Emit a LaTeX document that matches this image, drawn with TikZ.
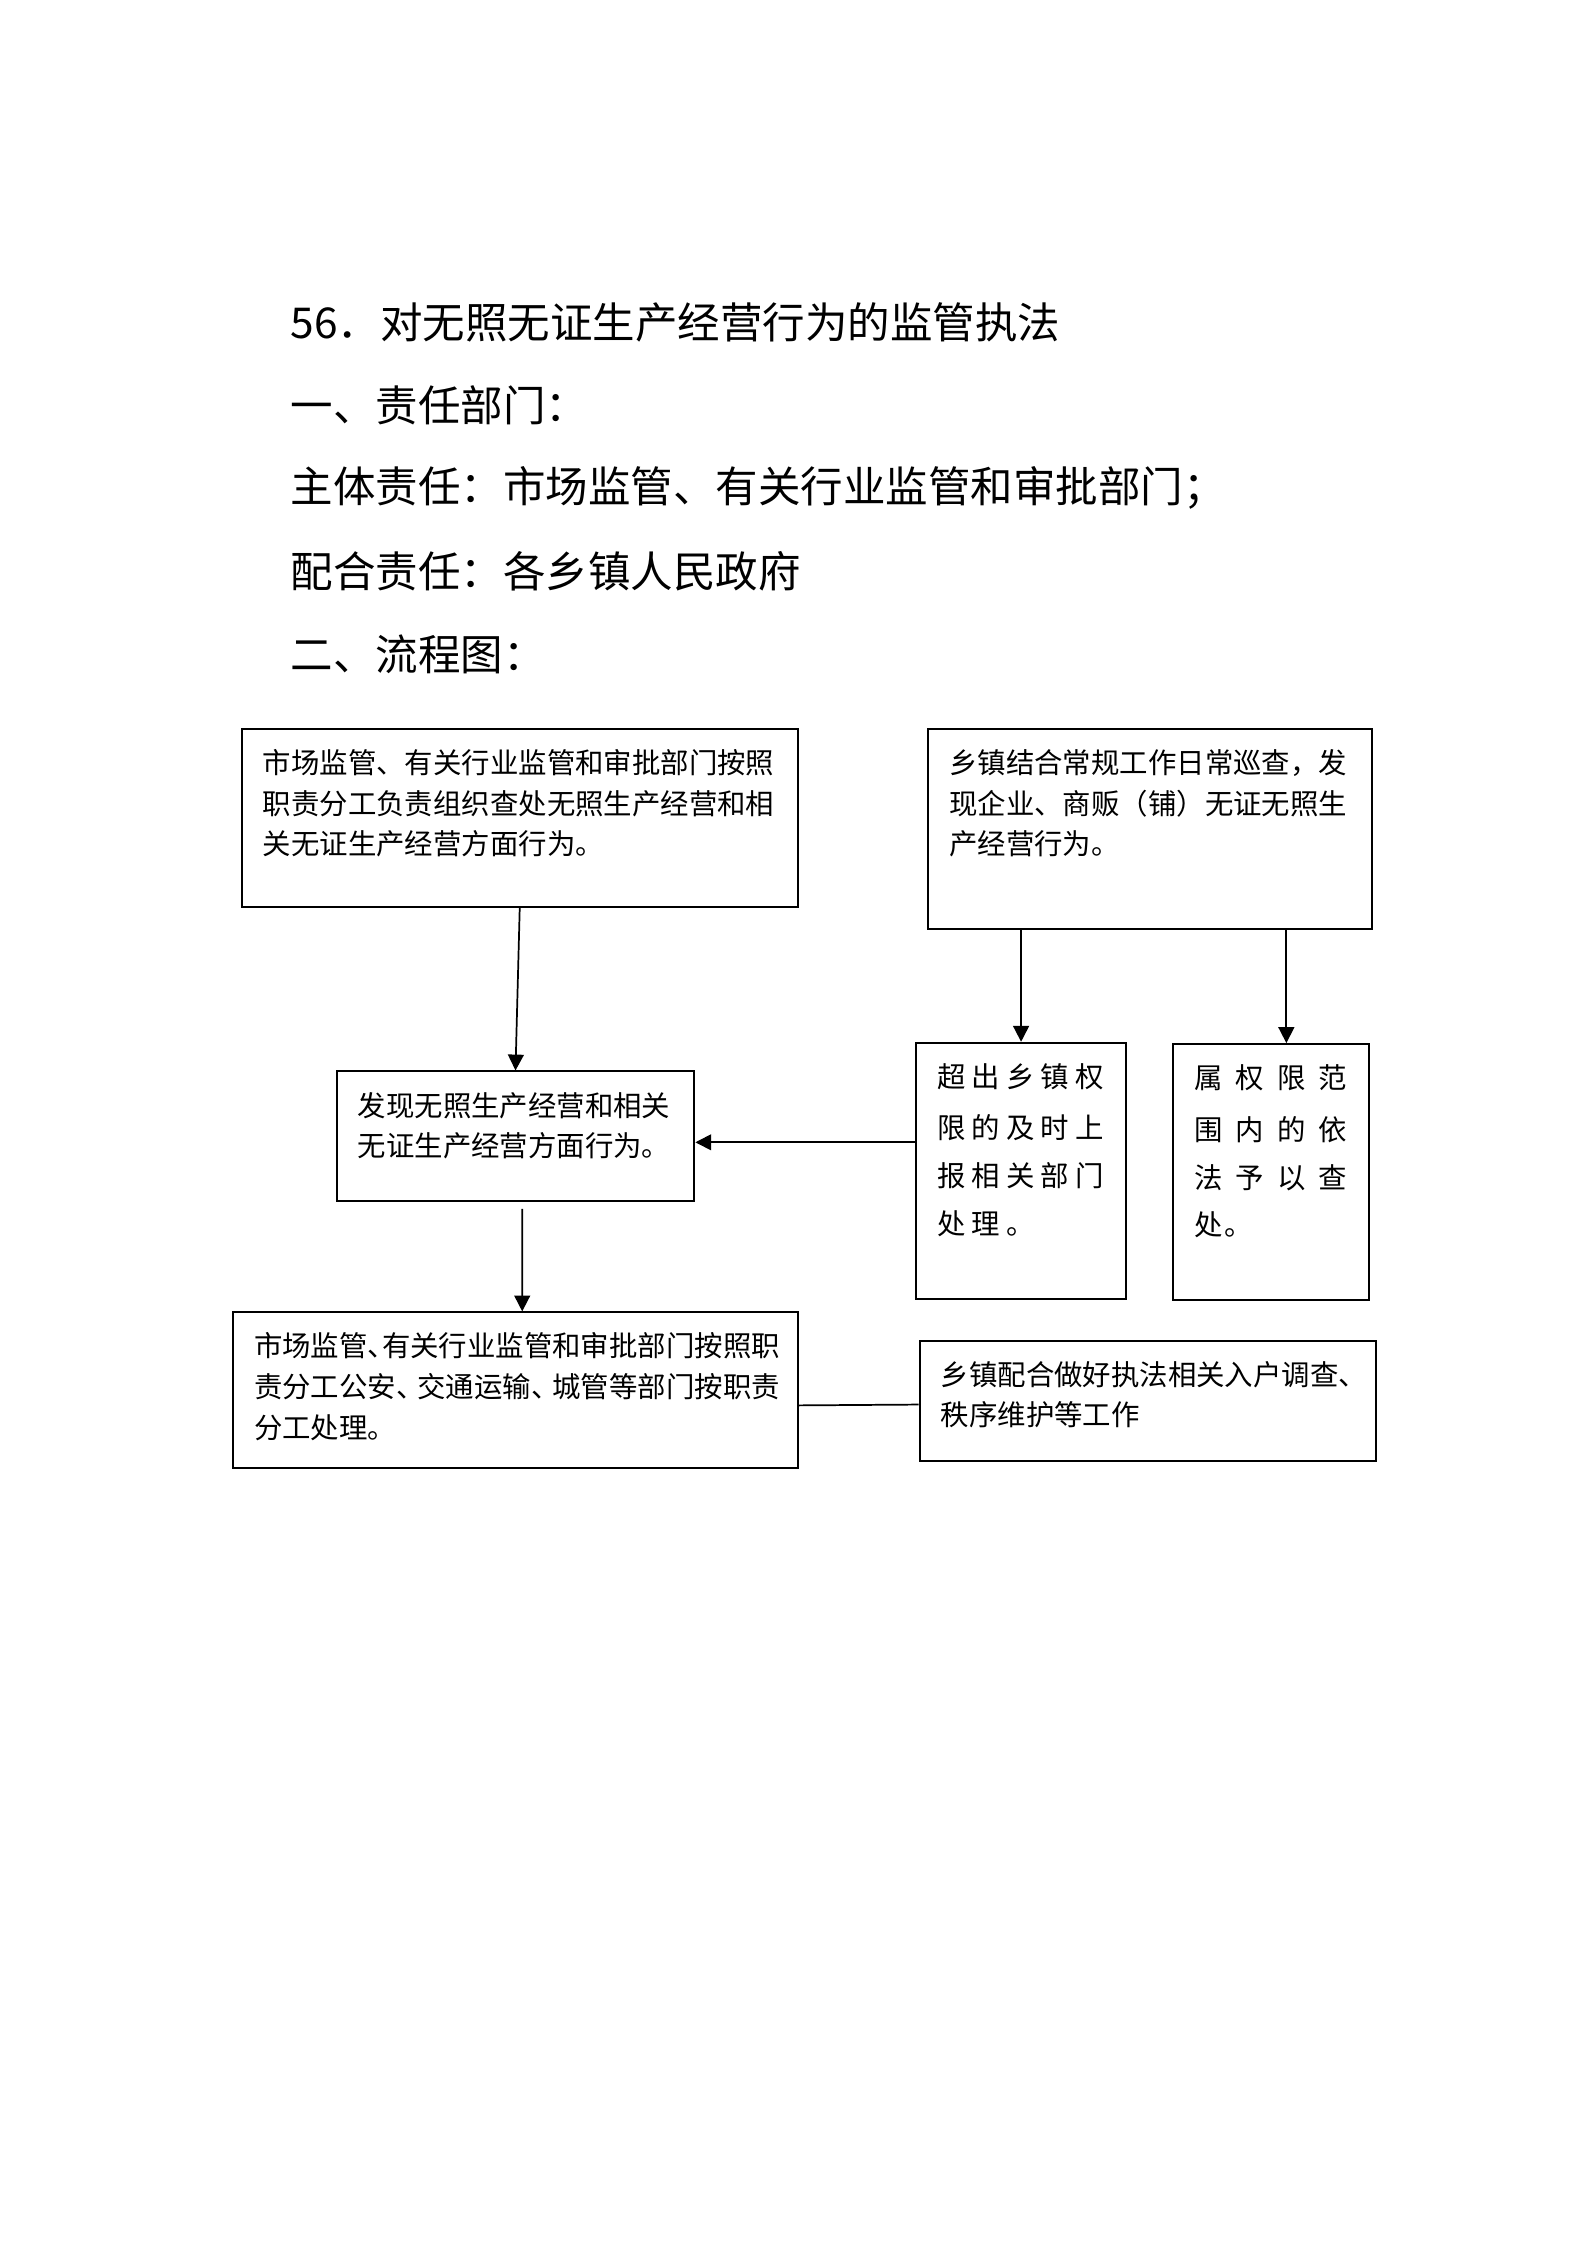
\documentclass[tikz,border=0pt]{standalone}
\usepackage{fontspec}
\setmainfont{Noto Sans CJK SC}
\usetikzlibrary{arrows.meta,calc}
% 框内文字：顶端对齐，[行距]{宽}{高}{内容}
\newcommand{\celltext}[4][15.3pt]{\parbox[t][#3][t]{#2}{\fontsize{10.7pt}{#1}\selectfont\rule{0pt}{5.9mm}#4}}
\newcommand{\dun}[1][0.5em]{\makebox[#1][l]{、}}
\tikzset{
  proc/.style={draw=black, line width=0.75pt, fill=white, inner xsep=0.28cm, inner ysep=0pt},
  flow/.style={draw=black, line width=0.65pt, -{Triangle[length=2.1mm,width=2.1mm]}},
  link/.style={draw=black, line width=0.65pt},
  head/.style={anchor=west, inner sep=0pt, font=\fontsize{16pt}{16pt}\selectfont}
}
\begin{document}
\begin{tikzpicture}
  \path[use as bounding box, fill=white] (0,0) rectangle (21,-29.706);

  % 标题
  \node[head] (title) at (3.84,-4.261) {56．对无照无证生产经营行为的监管执法};
  \node[head] (bm)  at (3.84,-5.359) {一、责任部门：};
  \node[head] (zr)  at (3.84,-6.458) {主体责任：市场监管、有关行业监管和审批部门；};
  \node[head] (ph)  at (3.84,-7.556) {配合责任：各乡镇人民政府};
  \node[head] (lct) at (3.84,-8.654) {二、流程图：};

  % 第一行
  \node[proc, minimum width=7.358cm, minimum height=2.355cm] (zt) at (6.877,-10.825)
    {\celltext{6.798cm}{2.355cm}{市场监管、有关行业监管和审批部门按照\\
      职责分工负责组织查处无照生产经营和相\\
      关无证生产经营方面行为。}};
  \node[proc, minimum width=5.875cm, minimum height=2.647cm] (xz) at (15.218,-10.970)
    {\celltext{5.315cm}{2.647cm}{乡镇结合常规工作日常巡查，发\\
      现企业、商贩（铺）无证无照生\\
      产经营行为。}};

  % 第二行
  \node[proc, minimum width=4.734cm, minimum height=1.715cm] (fx) at (6.821,-15.035)
    {\celltext{4.174cm}{1.715cm}{发现无照生产经营和相关\\
      无证生产经营方面行为。}};
  \node[proc, minimum width=2.778cm, minimum height=3.392cm] (sb) at (13.511,-15.494)
    {\celltext[18pt]{2.218cm}{3.392cm}{\vspace*{0.5mm}\spaceskip=0.8mm \mbox{超 出 乡 镇 权}\\
      \mbox{限 的 及 时 上}\\
      \mbox{报 相 关 部 门}\\
      \mbox{处 理 。}}};
  \node[proc, minimum width=2.598cm, minimum height=3.388cm] (cc) at (16.821,-15.509)
    {\celltext[18pt]{2.038cm}{3.388cm}{\vspace*{0.5mm}\spaceskip=1.74mm \mbox{属 权 限 范}\\
      \mbox{围 内 的 依}\\
      \mbox{法 予 以 查}\\
      处\kern0.3mm。}};

  % 第三行
  \node[proc, minimum width=7.474cm, minimum height=2.061cm] (cl) at (6.820,-18.396)
    {\celltext{6.914cm}{2.061cm}{市场监管\dun 有关行业监管和审批部门按照职\\
      责分工公安\dun[0.75em]交通运输\dun[0.75em]城管等部门按职责\\
      分工处理。}};
  \node[proc, minimum width=6.036cm, minimum height=1.590cm] (pw) at (15.186,-18.535)
    {\celltext{5.476cm}{1.590cm}{乡镇配合做好执法相关入户调查、\\
      秩序维护等工作}};

  % 连线
  \coordinate (ccin) at ([xshift=0.2cm]cc.north);
  \coordinate (fxin) at ([yshift=-0.08cm]fx.east);
  \draw[flow] (zt.south) -- (fx.north);
  \draw[flow] ([xshift=0.09cm,yshift=-0.09cm]fx.south) -- ([xshift=0.09cm]cl.north);
  \draw[flow] (xz.south -| sb.north) -- (sb.north);
  \draw[flow] (xz.south -| ccin) -- (ccin);
  \draw[flow] (sb.west |- fxin) -- (fxin);
  \draw[link] ([yshift=-0.2cm]cl.east) -- ([yshift=-0.05cm]pw.west);
\end{tikzpicture}
\end{document}
